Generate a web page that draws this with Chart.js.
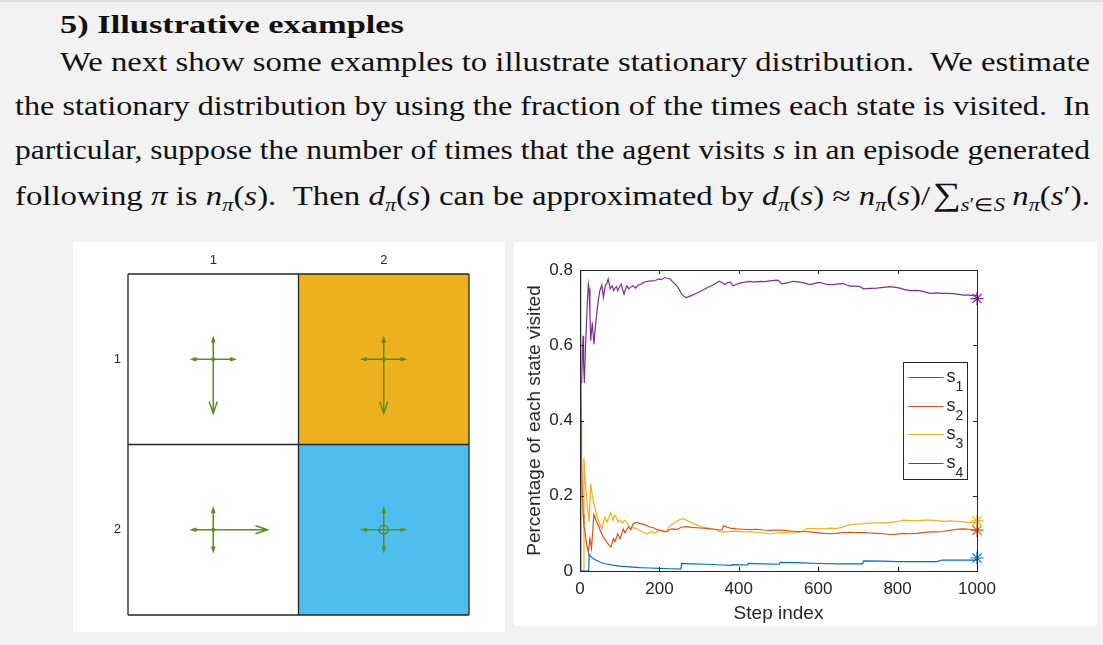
<!DOCTYPE html>
<html>
<head>
<meta charset="utf-8">
<script src="https://cdn.jsdelivr.net/npm/chart.js@4.4.0/dist/chart.umd.min.js"></script>
<style>
body { margin:0; width:1103px; height:645px; overflow:hidden; position:relative; background:#f2f2f2; border-top:2px solid #dedede; box-sizing:border-box; font-family:"Liberation Serif", serif; color:#111; }
.title { position:absolute; left:60px; top:1px; line-height:44px; font-size:26px; font-weight:bold; white-space:nowrap; }
.para { position:absolute; left:15px; top:38px; width:1075px; font-size:27px; }
.para div { height:44px; line-height:44px; white-space:nowrap; }
.para .first { padding-left:45px; }
.title span, .para span.ln { display:inline-block; transform-origin:0 50%; }
sub { font-size:0.68em; vertical-align:-0.3em; line-height:0; }
.sum { font-size:1.2em; margin-left:2px; }
.gap { display:inline-block; width:6px; }
.panel { position:absolute; background:#fff; }
</style>
</head>
<body>
<div class="title"><span>5) Illustrative examples</span></div>
<div class="para">
  <div class="first"><span class="ln">We next show some examples to illustrate stationary distribution.&nbsp; We estimate</span></div>
  <div><span class="ln">the stationary distribution by using the fraction of the times each state is visited.&nbsp; In</span></div>
  <div><span class="ln">particular, suppose the number of times that the agent visits <i>s</i> in an episode generated</span></div>
  <div><span class="ln">following <i>π</i> is <i>n<sub>π</sub></i>(<i>s</i>).&nbsp; Then <i>d<sub>π</sub></i>(<i>s</i>) can be approximated by <i>d<sub>π</sub></i>(<i>s</i>) ≈ <i>n<sub>π</sub></i>(<i>s</i>)/<span class="sum">∑</span><sub><i>s</i>′∈<i>S</i></sub><span class="gap"></span><i>n<sub>π</sub></i>(<i>s</i>′).</span></div>
</div>

<div class="panel" style="left:73px;top:240px;width:432px;height:390px;">
  <canvas id="gridChart" width="432" height="390"></canvas>
</div>
<div class="panel" style="left:514px;top:240px;width:583px;height:384px;">
  <canvas id="lineChart" width="583" height="384"></canvas>
</div>

<script>
// grid world: 2x2, state colours and epsilon-greedy policy [up, down, left, right, stay]
const gridRows = [1, 2];
const gridCols = [1, 2];
const cellColors = [
  ['#ffffff', '#edb120'],
  ['#ffffff', '#4dbeee']
];
const policy = [
  [0.1, 0.6, 0.1, 0.1, 0.1],
  [0.1, 0.6, 0.1, 0.1, 0.1],
  [0.1, 0.1, 0.1, 0.6, 0.1],
  [0.1, 0.1, 0.1, 0.1, 0.6]
];

// fraction of visits per state, [step, value]
const s1Visits = [[1,0],[22,0],[23,0.045],[26,0.04],[30,0.036],[35,0.032],[40,0.029],[50,0.024],[60,0.02],[70,0.018],[85,0.015],[100,0.013],[125,0.011],[150,0.009],[175,0.008],[200,0.007],[225,0.006],[254,0.005],[256,0.02],[280,0.019],[320,0.018],[360,0.016],[382,0.015],[384,0.017],[422,0.016],[424,0.02],[460,0.019],[502,0.018],[504,0.023],[550,0.022],[600,0.02],[650,0.019],[700,0.019],[712,0.019],[714,0.027],[760,0.026],[800,0.025],[850,0.025],[900,0.025],[910,0.029],[950,0.029],[1000,0.029]];
const s2Visits = [[1,1],[2,0.5],[3,0.4],[4,0.3],[6,0.2],[8,0.15],[10,0.12],[13,0.1],[16,0.075],[19,0.06],[21,0.05],[25,0.086],[29,0.06],[35,0.15],[40,0.135],[46,0.122],[52,0.105],[59,0.09],[65,0.08],[72,0.07],[78,0.064],[84,0.086],[88,0.078],[95,0.099],[101,0.086],[109,0.112],[113,0.102],[122,0.117],[128,0.11],[134,0.126],[139,0.128],[143,0.129],[151,0.126],[155,0.126],[165,0.122],[176,0.117],[185,0.115],[193,0.111],[202,0.108],[214,0.105],[218,0.104],[227,0.111],[235,0.112],[244,0.11],[256,0.117],[269,0.118],[280,0.116],[294,0.115],[310,0.114],[327,0.112],[340,0.111],[353,0.109],[358,0.11],[361,0.12],[370,0.117],[378,0.114],[395,0.112],[411,0.111],[428,0.11],[445,0.111],[462,0.109],[479,0.108],[495,0.109],[512,0.108],[530,0.106],[546,0.105],[563,0.105],[579,0.104],[596,0.102],[613,0.1],[630,0.099],[646,0.1],[663,0.102],[680,0.103],[697,0.102],[714,0.102],[730,0.101],[747,0.1],[764,0.099],[781,0.097],[798,0.098],[814,0.1],[831,0.099],[848,0.1],[865,0.102],[882,0.104],[898,0.104],[915,0.105],[932,0.108],[948,0.111],[965,0.112],[982,0.111],[1000,0.108]];
const s3Visits = [[1,0],[9,0],[10,0.3],[13,0.24],[17,0.19],[20,0.16],[23,0.13],[27,0.232],[31,0.2],[35,0.18],[38,0.166],[44,0.14],[50,0.125],[55,0.112],[59,0.13],[63,0.143],[68,0.13],[72,0.14],[77,0.155],[83,0.135],[87,0.148],[91,0.143],[96,0.13],[100,0.135],[106,0.128],[113,0.135],[120,0.125],[126,0.117],[135,0.115],[143,0.112],[155,0.105],[168,0.099],[175,0.102],[181,0.105],[187,0.1],[193,0.104],[200,0.108],[206,0.108],[218,0.105],[223,0.115],[227,0.121],[235,0.126],[244,0.132],[252,0.137],[260,0.139],[268,0.135],[277,0.13],[290,0.124],[302,0.119],[311,0.117],[328,0.113],[344,0.109],[353,0.104],[369,0.104],[390,0.106],[411,0.104],[430,0.104],[445,0.103],[462,0.101],[479,0.099],[496,0.101],[512,0.102],[538,0.101],[552,0.103],[562,0.105],[571,0.113],[590,0.113],[613,0.112],[630,0.114],[646,0.113],[660,0.116],[672,0.121],[690,0.124],[705,0.125],[725,0.127],[747,0.128],[765,0.128],[781,0.129],[798,0.131],[814,0.135],[832,0.134],[848,0.133],[865,0.135],[882,0.135],[898,0.134],[915,0.132],[932,0.133],[948,0.132],[965,0.131],[982,0.128],[1000,0.13]];
const s4Visits = [[1,0],[2,0.5],[4,0.5],[6,0.58],[8,0.625],[9,0.55],[11,0.5],[14,0.6],[18,0.7],[21,0.763],[23,0.75],[25,0.68],[27,0.612],[31,0.661],[35,0.603],[38,0.64],[42,0.683],[46,0.72],[50,0.745],[55,0.76],[59,0.727],[64,0.76],[68,0.765],[71,0.776],[76,0.75],[81,0.758],[85,0.745],[88,0.752],[92,0.756],[95,0.745],[98,0.753],[104,0.763],[107,0.75],[111,0.736],[115,0.75],[118,0.758],[123,0.75],[128,0.755],[134,0.758],[140,0.752],[147,0.76],[153,0.762],[160,0.767],[170,0.77],[181,0.771],[190,0.772],[197,0.776],[205,0.775],[214,0.78],[220,0.778],[227,0.776],[235,0.767],[244,0.758],[250,0.748],[256,0.736],[262,0.73],[267,0.726],[280,0.732],[294,0.738],[306,0.745],[319,0.752],[335,0.76],[351,0.77],[358,0.766],[365,0.762],[372,0.766],[378,0.768],[386,0.758],[395,0.762],[403,0.765],[415,0.768],[428,0.77],[440,0.768],[453,0.77],[465,0.769],[478,0.771],[495,0.773],[500,0.772],[508,0.763],[522,0.766],[537,0.77],[554,0.768],[566,0.765],[579,0.761],[595,0.765],[605,0.767],[613,0.764],[622,0.762],[638,0.761],[650,0.763],[663,0.764],[672,0.76],[680,0.757],[695,0.757],[705,0.756],[714,0.75],[730,0.751],[747,0.752],[765,0.754],[781,0.756],[795,0.754],[806,0.752],[818,0.748],[831,0.745],[843,0.746],[856,0.745],[870,0.741],[882,0.738],[898,0.739],[915,0.738],[928,0.738],[940,0.737],[953,0.735],[966,0.733],[980,0.733],[991,0.732],[1000,0.733]];

// true stationary distribution, drawn as stars at the last step
const trueDist = [0.0345, 0.1084, 0.1330, 0.7241];
const stateNames = ['1', '2', '3', '4'];
const stateColors = ['#0072bd', '#d95319', '#edb120', '#7e2f8e'];
const xTicks = [0, 200, 400, 600, 800, 1000];
const yTicks = [0, 0.2, 0.4, 0.6, 0.8];

const axisColor = '#262626';
const arrowColor = '#5b8e22';
const sans = '"Liberation Sans", Arial, sans-serif';

const toXY = arr => arr.map(p => ({ x: p[0], y: p[1] }));

// widen the serif lines so they fill the measure like the Computer Modern original
function stretch(span, target) {
  const w = span.getBoundingClientRect().width;
  span.style.transform = 'scaleX(' + (target / w).toFixed(4) + ')';
}
document.querySelectorAll('.para .ln').forEach((s, i) => stretch(s, i === 0 ? 1030 : 1075));
stretch(document.querySelector('.title span'), 344);

// ---------- grid world ----------
const cellCenters = [];
gridRows.forEach(r => gridCols.forEach(c => cellCenters.push({ x: c, y: r })));

const gridPlugin = {
  id: 'gridCells',
  beforeDatasetsDraw(chart) {
    const { ctx, scales: { x, y } } = chart;
    ctx.save();
    gridRows.forEach((r, ri) => gridCols.forEach((c, ci) => {
      const x0 = x.getPixelForValue(c - 0.5), x1 = x.getPixelForValue(c + 0.5);
      const y0 = y.getPixelForValue(r - 0.5), y1 = y.getPixelForValue(r + 0.5);
      ctx.fillStyle = cellColors[ri][ci];
      ctx.fillRect(x0, y0, x1 - x0, y1 - y0);
    }));
    ctx.strokeStyle = axisColor;
    ctx.lineWidth = 1.3;
    [0.5, 1.5, 2.5].forEach(v => {
      const px = x.getPixelForValue(v), py = y.getPixelForValue(v);
      ctx.beginPath();
      ctx.moveTo(px, y.getPixelForValue(0.5)); ctx.lineTo(px, y.getPixelForValue(2.5));
      ctx.moveTo(x.getPixelForValue(0.5), py); ctx.lineTo(x.getPixelForValue(2.5), py);
      ctx.stroke();
    });
    ctx.restore();
  },
  afterDatasetsDraw(chart) {
    const { ctx, scales: { x, y } } = chart;
    const dirs = [[0, -1], [0, 1], [-1, 0], [1, 0]];
    ctx.save();
    ctx.strokeStyle = arrowColor;
    ctx.fillStyle = arrowColor;
    ctx.lineWidth = 1.5;
    cellCenters.forEach((cc, i) => {
      const px = x.getPixelForValue(cc.x), py = y.getPixelForValue(cc.y);
      dirs.forEach((d, k) => {
        const len = 0.0876 + 0.384 * policy[i][k];
        const ex = x.getPixelForValue(cc.x + d[0] * len);
        const ey = y.getPixelForValue(cc.y + d[1] * len);
        const L = Math.hypot(ex - px, ey - py);
        const ux = (ex - px) / L, uy = (ey - py) / L;
        const hl = 0.22 * L, hw = 0.075 * L;
        ctx.beginPath();
        ctx.moveTo(px, py); ctx.lineTo(ex, ey);
        ctx.moveTo(ex - ux * hl - uy * hw, ey - uy * hl + ux * hw);
        ctx.lineTo(ex, ey);
        ctx.lineTo(ex - ux * hl + uy * hw, ey - uy * hl - ux * hw);
        ctx.stroke();
      });
      const stay = policy[i][4];
      ctx.beginPath();
      if (stay > 0.3) {
        ctx.arc(px, py, stay * 7.5, 0, Math.PI * 2);
        ctx.stroke();
      } else {
        ctx.arc(px, py, 2, 0, Math.PI * 2);
        ctx.fill();
      }
    });
    ctx.restore();
  }
};

new Chart(document.getElementById('gridChart'), {
  type: 'scatter',
  data: { datasets: [{ data: cellCenters, pointRadius: 0 }] },
  options: {
    responsive: false,
    animation: false,
    layout: { padding: { top: 0, right: 36, bottom: 17, left: 0 } },
    plugins: { legend: { display: false }, tooltip: { enabled: false } },
    scales: {
      x: {
        type: 'linear', position: 'top', min: 0.5, max: 2.5,
        afterBuildTicks: s => { s.ticks = gridCols.map(v => ({ value: v })); },
        afterFit: s => { s.height = 32; },
        ticks: { color: axisColor, font: { family: sans, size: 13 }, padding: 6 },
        grid: { display: false, drawTicks: false },
        border: { display: false }
      },
      y: {
        type: 'linear', reverse: true, min: 0.5, max: 2.5,
        afterBuildTicks: s => { s.ticks = gridRows.map(v => ({ value: v })); },
        afterFit: s => { s.width = 55; },
        ticks: { color: axisColor, font: { family: sans, size: 13 }, padding: 7 },
        grid: { display: false, drawTicks: false },
        border: { display: false }
      }
    }
  },
  plugins: [gridPlugin]
});

// ---------- visit fractions ----------
const boxPlugin = {
  id: 'matlabBox',
  afterDraw(chart) {
    const { ctx, chartArea: a, scales: { x, y } } = chart;
    ctx.save();
    ctx.strokeStyle = axisColor;
    ctx.lineWidth = 1;
    ctx.strokeRect(Math.round(a.left) + 0.5, Math.round(a.top) + 0.5, Math.round(a.right - a.left), Math.round(a.bottom - a.top));
    ctx.beginPath();
    xTicks.forEach(v => {
      const px = Math.round(x.getPixelForValue(v)) + 0.5;
      ctx.moveTo(px, a.bottom); ctx.lineTo(px, a.bottom - 4);
      ctx.moveTo(px, a.top); ctx.lineTo(px, a.top + 4);
    });
    yTicks.forEach(v => {
      const py = Math.round(y.getPixelForValue(v)) + 0.5;
      ctx.moveTo(a.left, py); ctx.lineTo(a.left + 4, py);
      ctx.moveTo(a.right, py); ctx.lineTo(a.right - 4, py);
    });
    ctx.stroke();

    // legend box
    const bw = 64, bh = 117;
    const bx = Math.round(a.right - 10 - bw) + 0.5, by = Math.round(a.top + 92) + 0.5;
    ctx.fillStyle = '#fff';
    ctx.fillRect(bx, by, bw, bh);
    ctx.strokeRect(bx, by, bw, bh);
    const rows = [15, 44, 72, 101];
    chart.data.datasets.slice(0, 4).forEach((ds, i) => {
      const ry = by + rows[i];
      ctx.strokeStyle = ds.borderColor;
      ctx.lineWidth = 1.2;
      ctx.beginPath();
      ctx.moveTo(bx + 5, ry); ctx.lineTo(bx + 40, ry);
      ctx.stroke();
      ctx.fillStyle = axisColor;
      ctx.textBaseline = 'alphabetic';
      ctx.textAlign = 'left';
      ctx.font = '18px ' + sans;
      ctx.fillText('s', bx + 43, ry + 4);
      ctx.font = '14px ' + sans;
      ctx.fillText(stateNames[i], bx + 52, ry + 13);
    });
    ctx.restore();
  }
};

const lineSet = (arr, i) => ({
  label: 's' + stateNames[i],
  data: toXY(arr),
  borderColor: stateColors[i],
  borderWidth: 1.2,
  pointRadius: 0,
  tension: 0
});

new Chart(document.getElementById('lineChart'), {
  type: 'line',
  data: {
    datasets: [
      lineSet(s1Visits, 0),
      lineSet(s2Visits, 1),
      lineSet(s3Visits, 2),
      lineSet(s4Visits, 3),
      {
        label: 'true',
        type: 'scatter',
        data: trueDist.map(v => ({ x: 1000, y: v })),
        pointStyle: 'star',
        pointRadius: 6.5,
        borderWidth: 1.2,
        borderColor: stateColors,
        backgroundColor: stateColors,
        showLine: false,
        clip: false
      }
    ]
  },
  options: {
    responsive: false,
    animation: false,
    layout: { padding: { top: 28, right: 120, bottom: 0, left: 0 } },
    plugins: { legend: { display: false }, tooltip: { enabled: false } },
    scales: {
      x: {
        type: 'linear', min: 0, max: 1000,
        afterBuildTicks: s => { s.ticks = xTicks.map(v => ({ value: v })); },
        afterFit: s => { s.height = 55; },
        ticks: { color: axisColor, font: { family: sans, size: 17 }, padding: 8, maxRotation: 0, callback: v => String(v) },
        grid: { display: false, drawTicks: false },
        border: { display: false },
        title: { display: true, text: 'Step index', color: axisColor, font: { family: sans, size: 19 }, padding: { top: 0, bottom: 1 } }
      },
      y: {
        type: 'linear', min: 0, max: 0.8,
        afterBuildTicks: s => { s.ticks = yTicks.map(v => ({ value: v })); },
        afterFit: s => { s.width = 66; },
        ticks: { color: axisColor, font: { family: sans, size: 17 }, padding: 7, callback: v => String(v) },
        grid: { display: false, drawTicks: false },
        border: { display: false },
        title: { display: true, text: 'Percentage of each state visited', color: axisColor, font: { family: sans, size: 19 }, padding: { top: 9, bottom: 0 } }
      }
    }
  },
  plugins: [boxPlugin]
});
</script>
</body>
</html>
